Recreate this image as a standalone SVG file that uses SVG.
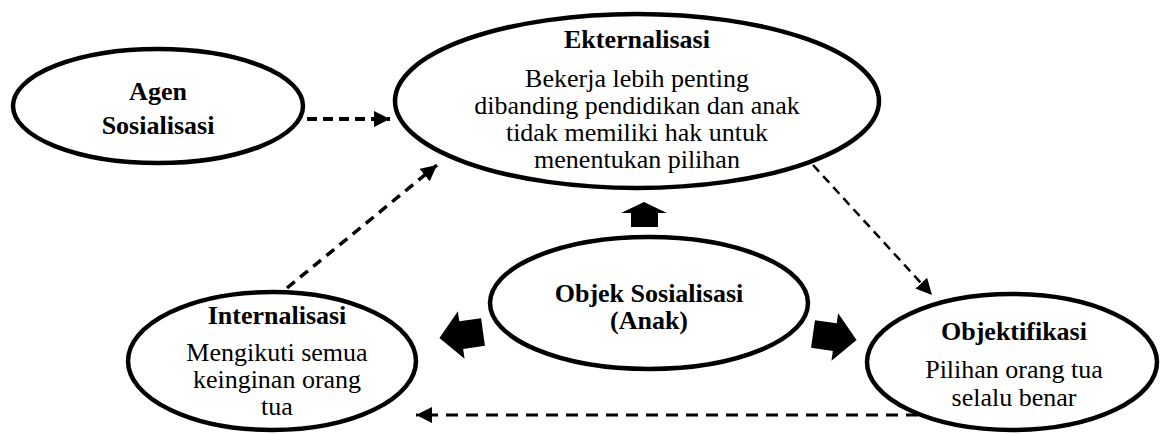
<svg xmlns="http://www.w3.org/2000/svg" width="1165" height="434" viewBox="0 0 1165 434">
<style>
.node ellipse{fill:#fff;stroke:#000;stroke-width:4.5}
text{font-family:"Liberation Serif","Times New Roman",serif;font-size:26px;fill:#000;text-anchor:middle}
.b{font-weight:bold}
.dash{fill:none;stroke:#000}
.block{fill:#000}
</style>
<defs>
<marker id="ah" viewBox="0 0 16 16" refX="16" refY="8" markerWidth="16" markerHeight="16" markerUnits="userSpaceOnUse" orient="auto">
<path d="M0,0 L16,8 L0,16 z" fill="#000"/>
</marker>
</defs>
<rect width="1165" height="434" fill="#fff"/>
<g id="connectors">
<line class="dash" x1="307" y1="119" x2="390" y2="119" stroke-width="4" stroke-dasharray="10 6" marker-end="url(#ah)"/>
<line class="dash" x1="287" y1="288" x2="437" y2="165" stroke-width="3.5" stroke-dasharray="10 7" marker-end="url(#ah)"/>
<line class="dash" x1="813" y1="165" x2="932" y2="295" stroke-width="2.5" stroke-dasharray="9 6" marker-end="url(#ah)"/>
<line class="dash" x1="918" y1="415" x2="416" y2="415" stroke-width="3" stroke-dasharray="12 8" marker-end="url(#ah)"/>
<polygon class="block" points="631,227 631,213 621,213 644,202 667,213 658,213 658,227"/>
<polygon class="block" transform="translate(483,332) rotate(172)" points="0,-14 22,-14 22,-24 44,0 22,24 22,14 0,14"/>
<polygon class="block" transform="translate(813,334) rotate(8)" points="0,-14 22,-14 22,-24 44,0 22,24 22,14 0,14"/>
</g>
<g id="agen" class="node">
<ellipse cx="158" cy="106" rx="145" ry="57"/>
<text class="b" x="158" y="100">Agen</text>
<text class="b" x="158" y="134">Sosialisasi</text>
</g>
<g id="eksternalisasi" class="node">
<ellipse cx="637" cy="101" rx="242" ry="87"/>
<text class="b" x="637" y="48">Ekternalisasi</text>
<text x="637" y="87">Bekerja lebih penting</text>
<text x="637" y="114">dibanding pendidikan dan anak</text>
<text x="637" y="141">tidak memiliki hak untuk</text>
<text x="637" y="168">menentukan pilihan</text>
</g>
<g id="objek" class="node">
<ellipse cx="649" cy="303" rx="159" ry="66"/>
<text class="b" x="649" y="302">Objek Sosialisasi</text>
<text class="b" x="649" y="329">(Anak)</text>
</g>
<g id="internalisasi" class="node">
<ellipse cx="272" cy="361" rx="144" ry="69"/>
<text class="b" x="277" y="324">Internalisasi</text>
<text x="277" y="361">Mengikuti semua</text>
<text x="277" y="388">keinginan orang</text>
<text x="277" y="415">tua</text>
</g>
<g id="objektifikasi" class="node">
<ellipse cx="1012" cy="362" rx="145" ry="68"/>
<text class="b" x="1014" y="340">Objektifikasi</text>
<text x="1014" y="378">Pilihan orang tua</text>
<text x="1014" y="406">selalu benar</text>
</g>
</svg>
